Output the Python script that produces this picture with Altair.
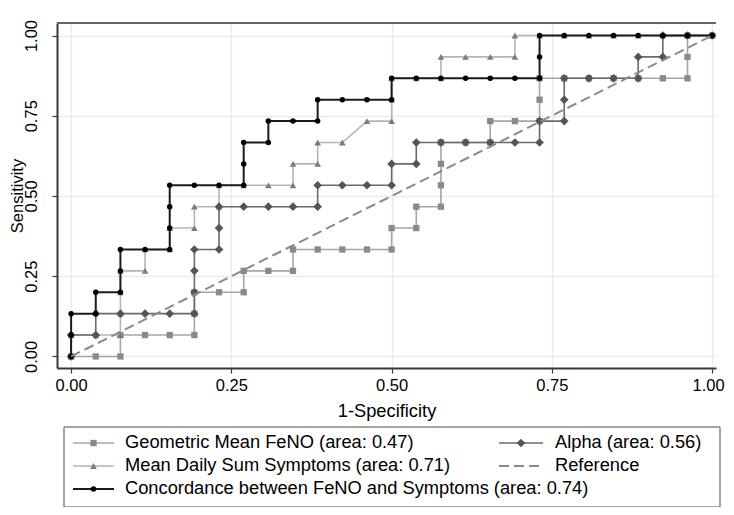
import altair as alt
import pandas as pd

# ---------------- data ----------------
N_NEG = 26   # denominators of the ROC steps
N_POS = 15

geo_fp = [0, 1, 2, 2, 3, 4, 5, 5, 5, 6, 7, 7, 8, 9, 9, 10, 11, 12, 13, 13, 14, 14, 15, 15, 15, 15,
          16, 17, 17, 18, 19, 19, 19, 20, 21, 22, 23, 24, 25, 25, 25, 26]
geo_tp = [0, 0, 0, 1, 1, 1, 1, 2, 3, 3, 3, 4, 4, 4, 5, 5, 5, 5, 5, 6, 6, 7, 7, 8, 9, 10,
          10, 10, 11, 11, 11, 12, 13, 13, 13, 13, 13, 13, 13, 14, 15, 15]

sym_fp = [0, 0, 1, 2, 2, 2, 2, 3, 3, 4, 4, 5, 5, 6, 6, 7, 8, 9, 9, 10, 10, 11, 12, 13, 13, 13,
          14, 15, 15, 16, 17, 18, 18, 19, 20, 21, 22, 23, 24, 25, 26]
sym_tp = [0, 1, 1, 1, 2, 3, 4, 4, 5, 5, 6, 6, 7, 7, 8, 8, 8, 8, 9, 9, 10, 10, 11, 11, 12, 13,
          13, 13, 14, 14, 14, 14, 15, 15, 15, 15, 15, 15, 15, 15, 15]

con_fp = [0, 0, 0, 1, 1, 2, 2, 2, 3, 4, 4, 4, 4, 5, 6, 7, 7, 7, 8, 8, 9, 10, 10, 11, 12, 13,
          13, 14, 15, 16, 17, 18, 19, 19, 19, 20, 21, 22, 23, 24, 25, 26]
con_tp = [0, 1, 2, 2, 3, 3, 4, 5, 5, 5, 6, 7, 8, 8, 8, 8, 9, 10, 10, 11, 11, 11, 12, 12, 12, 12,
          13, 13, 13, 13, 13, 13, 13, 14, 15, 15, 15, 15, 15, 15, 15, 15]

alp_fp = [0, 0, 1, 1, 2, 3, 4, 5, 5, 5, 5, 6, 6, 6, 7, 8, 9, 10, 10, 11, 12, 13, 13, 14, 14, 15,
          16, 17, 18, 19, 19, 20, 20, 20, 21, 22, 23, 23, 24, 24, 25, 26]
alp_tp = [0, 1, 1, 2, 2, 2, 2, 2, 3, 4, 5, 5, 6, 7, 7, 7, 7, 7, 8, 8, 8, 8, 9, 9, 10, 10,
          10, 10, 10, 10, 11, 11, 12, 13, 13, 13, 13, 14, 14, 15, 15, 15]

ref_x = [0.0, 1.0]
ref_y = [0.0, 1.0]

series_names = {
    "geo": "Geometric Mean FeNO (area: 0.47)",
    "sym": "Mean Daily Sum Symptoms (area: 0.71)",
    "con": "Concordance between FeNO and Symptoms (area: 0.74)",
    "alp": "Alpha (area: 0.56)",
    "ref": "Reference",
}
tick_values = [0.0, 0.25, 0.5, 0.75, 1.0]
x_title = "1-Specificity"
y_title = "Sensitivity"

# ---------------- layout / style ----------------
W, H = 659, 345
XD = [-0.022, 1.006]
YD = [-0.036, 1.039]
FONT = "Liberation Sans"
FS_LAB = 16.5
FS_TXT = 18.3

def px2x(p):
    return XD[0] + p / W * (XD[1] - XD[0])

def py2y(p):
    return YD[1] - p / H * (YD[1] - YD[0])

xs = alt.Scale(domain=XD, nice=False, zero=False)
ys = alt.Scale(domain=YD, nice=False, zero=False)

x_axis = alt.Axis(values=tick_values, format=".2f", title=x_title, grid=True,
                  gridColor="#ebebeb", gridWidth=1.5, domainColor="#3a3a3a", domainWidth=2,
                  tickColor="#3a3a3a", tickWidth=1.2, tickSize=5, labelPadding=4,
                  labelFlush=6, labelFlushOffset=12,
                  labelFontSize=FS_LAB, titleFontSize=FS_TXT, labelFont=FONT, titleFont=FONT,
                  labelColor="#000", titleColor="#000", titleFontWeight="normal", titlePadding=9)
y_axis = alt.Axis(values=tick_values, format=".2f", title=y_title, grid=True,
                  gridColor="#ebebeb", gridWidth=1.5, domainColor="#3a3a3a", domainWidth=2,
                  tickColor="#3a3a3a", tickWidth=1.2, tickSize=5, labelAngle=-90,
                  labelAlign="center", labelBaseline="bottom", labelPadding=13,
                  labelFontSize=FS_LAB, titleFontSize=16.5, labelFont=FONT, titleFont=FONT,
                  labelColor="#000", titleColor="#000", titleFontWeight="normal",
                  titleX=-40, titleY=H / 2, titleAlign="center", titleBaseline="middle",
                  titleAngle=270)

def X(field="x"):
    return alt.X(f"{field}:Q", scale=xs, axis=x_axis)

def Y(field="y"):
    return alt.Y(f"{field}:Q", scale=ys, axis=y_axis)

styles = {
    "geo": dict(line="#a6a6a6", lw=1.6, mc="#8a8a8a", shape="square", size=40),
    "sym": dict(line="#b5b5b5", lw=1.6, mc="#7c7c7c", shape="triangle-up", size=45),
    "alp": dict(line="#6a6a6a", lw=1.6, mc="#555555", shape="diamond", size=75),
    "con": dict(line="#1c1c1c", lw=2.0, mc="#000000", shape="circle", size=30),
}
data_map = {
    "geo": (geo_fp, geo_tp),
    "sym": (sym_fp, sym_tp),
    "alp": (alp_fp, alp_tp),
    "con": (con_fp, con_tp),
}

layers = []
for key in ["geo", "sym", "alp", "con"]:
    fp, tp = data_map[key]
    st = styles[key]
    df = pd.DataFrame({"x": [v / N_NEG for v in fp], "y": [v / N_POS for v in tp],
                       "o": list(range(len(fp)))})
    layers.append(alt.Chart(df).mark_line(color=st["line"], strokeWidth=st["lw"]).encode(
        x=X(), y=Y(), order="o:Q"))
    layers.append(alt.Chart(df).mark_point(shape=st["shape"], size=st["size"], filled=True,
                                           color=st["mc"], opacity=1).encode(x=X(), y=Y()))

ref_df = pd.DataFrame({"x": ref_x, "y": ref_y})
layers.append(alt.Chart(ref_df).mark_line(color="#8a8a8a", strokeWidth=2,
                                          strokeDash=[10, 5]).encode(x=X(), y=Y()))

# top frame line
layers.append(alt.Chart(ref_df).mark_rule(color="#5a5a5a", strokeWidth=1.5).encode(
    x=alt.value(0), x2=alt.value(W), y=alt.value(0)))

# ---------------- legend (pixel layout relative to the plot origin) ----------------
LEG_BOX = dict(x0=7, x1=663, y0=404, y1=484)
rows = [420, 443, 466]
col1 = dict(l0=16, l1=57, m=36.5, t=68)
col2 = dict(l0=442, l1=486, m=464, t=498)
legend_slots = {"geo": (col1, rows[0]), "sym": (col1, rows[1]), "con": (col1, rows[2]),
                "alp": (col2, rows[0]), "ref": (col2, rows[1])}

box_df = pd.DataFrame({"x": [px2x(LEG_BOX["x0"])], "x2": [px2x(LEG_BOX["x1"])],
                       "y": [py2y(LEG_BOX["y0"])], "y2": [py2y(LEG_BOX["y1"])]})
layers.append(alt.Chart(box_df).mark_rect(fill="white", stroke="#4a4a4a", strokeWidth=1).encode(
    x=X(), x2="x2:Q", y=Y(), y2="y2:Q"))

for key, (col, row) in legend_slots.items():
    seg = pd.DataFrame({"x": [px2x(col["l0"])], "x2": [px2x(col["l1"])], "y": [py2y(row)],
                        "xm": [px2x(col["m"])], "xt": [px2x(col["t"])],
                        "label": [series_names[key]]})
    if key == "ref":
        layers.append(alt.Chart(seg).mark_rule(color="#8a8a8a", strokeWidth=2,
                                               strokeDash=[10, 5]).encode(x=X(), x2="x2:Q", y=Y()))
    else:
        st = styles[key]
        layers.append(alt.Chart(seg).mark_rule(color=st["line"], strokeWidth=st["lw"]).encode(
            x=X(), x2="x2:Q", y=Y()))
        layers.append(alt.Chart(seg).mark_point(shape=st["shape"], size=st["size"], filled=True,
                                                color=st["mc"], opacity=1).encode(x=X("xm"), y=Y()))
    layers.append(alt.Chart(seg).mark_text(align="left", baseline="middle", font=FONT,
                                           fontSize=FS_TXT, color="#000").encode(
        x=X("xt"), y=Y(), text="label:N"))

chart = alt.layer(*layers).properties(
    width=W, height=H,
    autosize=alt.AutoSizeParams(type="none"),
    padding={"left": 49, "top": 15, "right": 10, "bottom": 139},
    background="white",
).configure_view(stroke=None)

chart.save("out.html", embed_options={"renderer": "svg", "actions": False})
